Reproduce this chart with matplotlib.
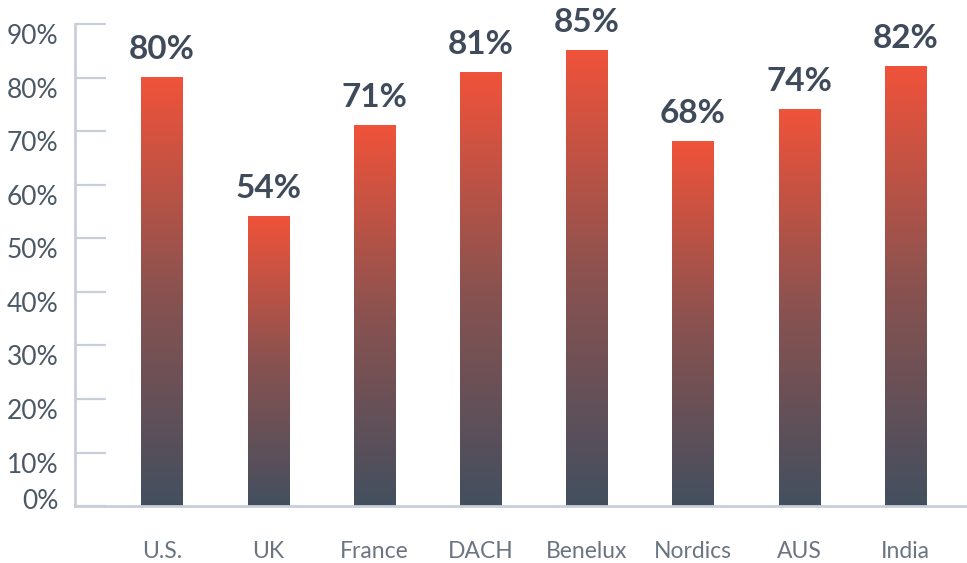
import numpy as np
import matplotlib
matplotlib.use("Agg")
import matplotlib.pyplot as plt
import matplotlib.transforms as mtransforms
from matplotlib.colors import LinearSegmentedColormap

regions = ["U.S.", "UK", "France", "DACH", "Benelux", "Nordics", "AUS", "India"]
values = [80, 54, 71, 81, 85, 68, 74, 82]
yticks = [0, 10, 20, 30, 40, 50, 60, 70, 80, 90]

AXIS_C = "#c9cfd8"
TICK_TXT = "#4d5866"
CAT_TXT = "#6b7582"
VAL_TXT = "#3f4b5a"

plt.rcParams["font.family"] = ["Lato", "DejaVu Sans"]

grad = LinearSegmentedColormap.from_list("bar", ["#434f5f", "#8a5250", "#f0533a"])

fig = plt.figure(figsize=(9.67, 5.63), dpi=100)
ax = fig.add_axes([0.0776, 0.101, 0.9224, 0.856])

width = 0.39
x = np.arange(len(regions))
g = np.linspace(0, 1, 256).reshape(-1, 1)
for xi, v in zip(x, values):
    ax.imshow(g, cmap=grad, origin="lower", aspect="auto", interpolation="bilinear",
              extent=(xi - width / 2, xi + width / 2, 0, v), zorder=2)
    ax.annotate(f"{v}%", (xi, v), xytext=(0, 10), textcoords="offset points",
                ha="center", va="bottom", fontsize=24, fontweight="bold", color=VAL_TXT)

ax.set_xlim(-0.82, len(regions) - 1 + 0.58)
ax.set_ylim(0, 90)

for s in ["top", "right"]:
    ax.spines[s].set_visible(False)
for s in ["left", "bottom"]:
    ax.spines[s].set_color(AXIS_C)
    ax.spines[s].set_linewidth(2)

ax.set_yticks(yticks)
ax.set_yticklabels([f"{t}%" for t in yticks])
ax.tick_params(axis="y", direction="in", length=22, width=1.6, color=AXIS_C,
               labelsize=19, labelcolor=TICK_TXT, pad=12)
for i, lab in enumerate(ax.get_yticklabels()):
    dy = 7 if i == 0 else -10
    lab.set_transform(lab.get_transform() + mtransforms.ScaledTranslation(0, dy / 100, fig.dpi_scale_trans))

ax.set_xticks(x)
ax.set_xticklabels(regions)
ax.tick_params(axis="x", length=0, labelsize=16.5, labelcolor=CAT_TXT, pad=25)

fig.savefig("out.png", dpi=100)
